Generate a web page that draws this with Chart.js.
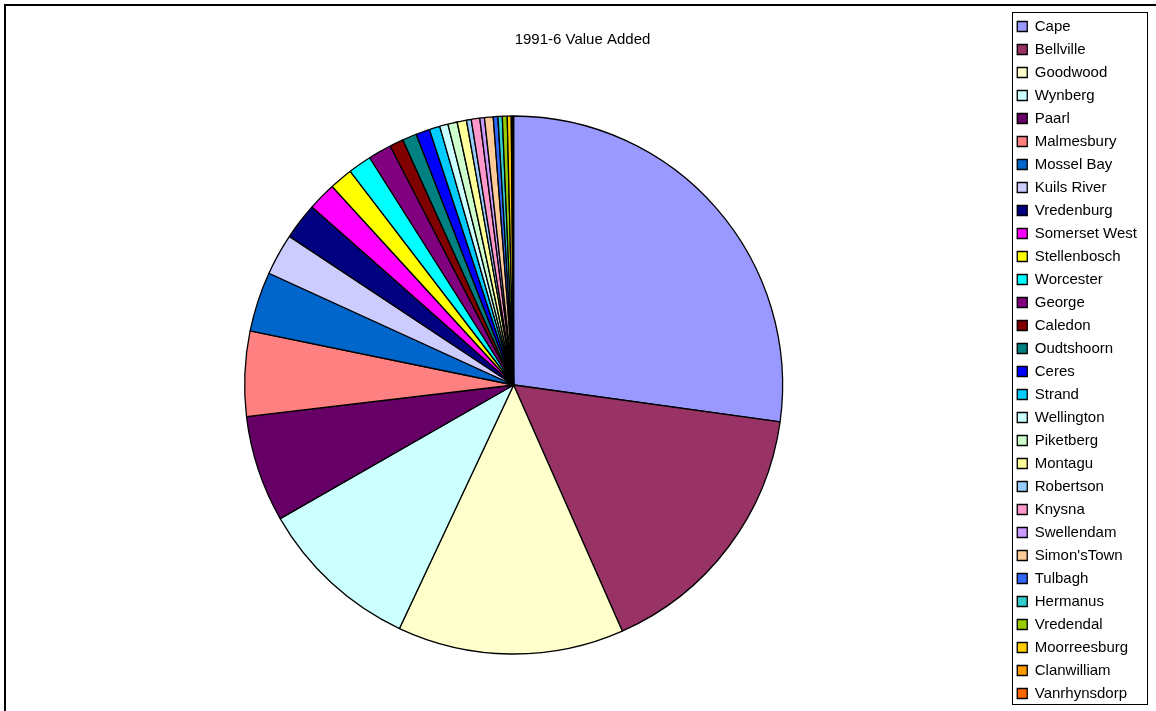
<!DOCTYPE html>
<html lang="en">

<head>
  <meta charset="UTF-8">
  <title>1991-6 Value Added</title>
  <script src="https://cdn.jsdelivr.net/npm/chart.js"></script>
  <style>
    body {
      margin: 0;
      background: #fff;
    }
  </style>
</head>

<body>
  <canvas id="chart" width="1156" height="711"></canvas>

  <script>
    // Share of value added by magisterial district
    var districts = ['Cape', 'Bellville', 'Goodwood', 'Wynberg', 'Paarl', 'Malmesbury', 'Mossel Bay',
      'Kuils River', 'Vredenburg', 'Somerset West', 'Stellenbosch', 'Worcester', 'George', 'Caledon',
      'Oudtshoorn', 'Ceres', 'Strand', 'Wellington', 'Piketberg', 'Montagu', 'Robertson', 'Knysna',
      'Swellendam', "Simon'sTown", 'Tulbagh', 'Hermanus', 'Vredendal', 'Moorreesburg', 'Clanwilliam',
      'Vanrhynsdorp'];
    var valueAdded = [27.2, 16.2, 13.6, 9.75, 6.4, 5.1, 3.6, 2.5, 2.2, 1.7, 1.4, 1.4, 1.4, 0.83,
      0.86, 0.83, 0.64, 0.5, 0.56, 0.56, 0.29, 0.51, 0.28, 0.52, 0.28, 0.26, 0.29, 0.24, 0.08, 0.06];
    var sliceColors = ['#9999FF', '#993366', '#FFFFCC', '#CCFFFF', '#660066', '#FF8080', '#0066CC',
      '#CCCCFF', '#000080', '#FF00FF', '#FFFF00', '#00FFFF', '#800080', '#800000', '#008080', '#0000FF',
      '#00CCFF', '#CCFFFF', '#CCFFCC', '#FFFF99', '#99CCFF', '#FF99CC', '#CC99FF', '#FFCC99', '#3366FF',
      '#33CCCC', '#99CC00', '#FFCC00', '#FF9900', '#FF6600'];

    Chart.defaults.font.family = "'Liberation Sans', Arial, sans-serif";
    Chart.defaults.color = '#000';

    // outer chart frame + box round the legend
    var frames = {
      id: 'frames',
      afterDraw: function (chart) {
        var ctx = chart.ctx;
        var lg = chart.legend;
        ctx.save();
        ctx.strokeStyle = '#000';
        ctx.lineWidth = 2;
        ctx.strokeRect(5, 5, 1300, 900);
        ctx.lineWidth = 1;
        ctx.strokeRect(Math.round(lg.left) + 3.5, 12.5, Math.round(lg.right) - Math.round(lg.left) - 3, 692);
        ctx.restore();
      }
    };

    var ctx = document.getElementById('chart').getContext('2d');
    new Chart(ctx, {
      type: 'pie',
      data: {
        labels: districts,
        datasets: [{
          data: valueAdded,
          backgroundColor: sliceColors,
          borderColor: '#000',
          borderWidth: 1.3,
          radius: 269
        }]
      },
      options: {
        responsive: false,
        animation: false,
        events: [],
        layout: {
          padding: { left: 18, right: 9, top: 0, bottom: 0 }
        },
        plugins: {
          title: {
            display: true,
            text: '1991-6 Value Added',
            color: '#000',
            font: { size: 15, weight: 'normal' },
            padding: { top: 31, bottom: 10 }
          },
          legend: {
            position: 'right',
            align: 'start',
            // empty title only used as a top spacer for the list
            title: { display: true, text: '', font: { size: 1, lineHeight: 11 }, padding: 0 },
            labels: {
              boxWidth: 10,
              boxHeight: 10,
              padding: 8,
              color: '#000',
              font: { size: 15 }
            }
          },
          tooltip: { enabled: false }
        }
      },
      plugins: [frames]
    });
  </script>
</body>

</html>
